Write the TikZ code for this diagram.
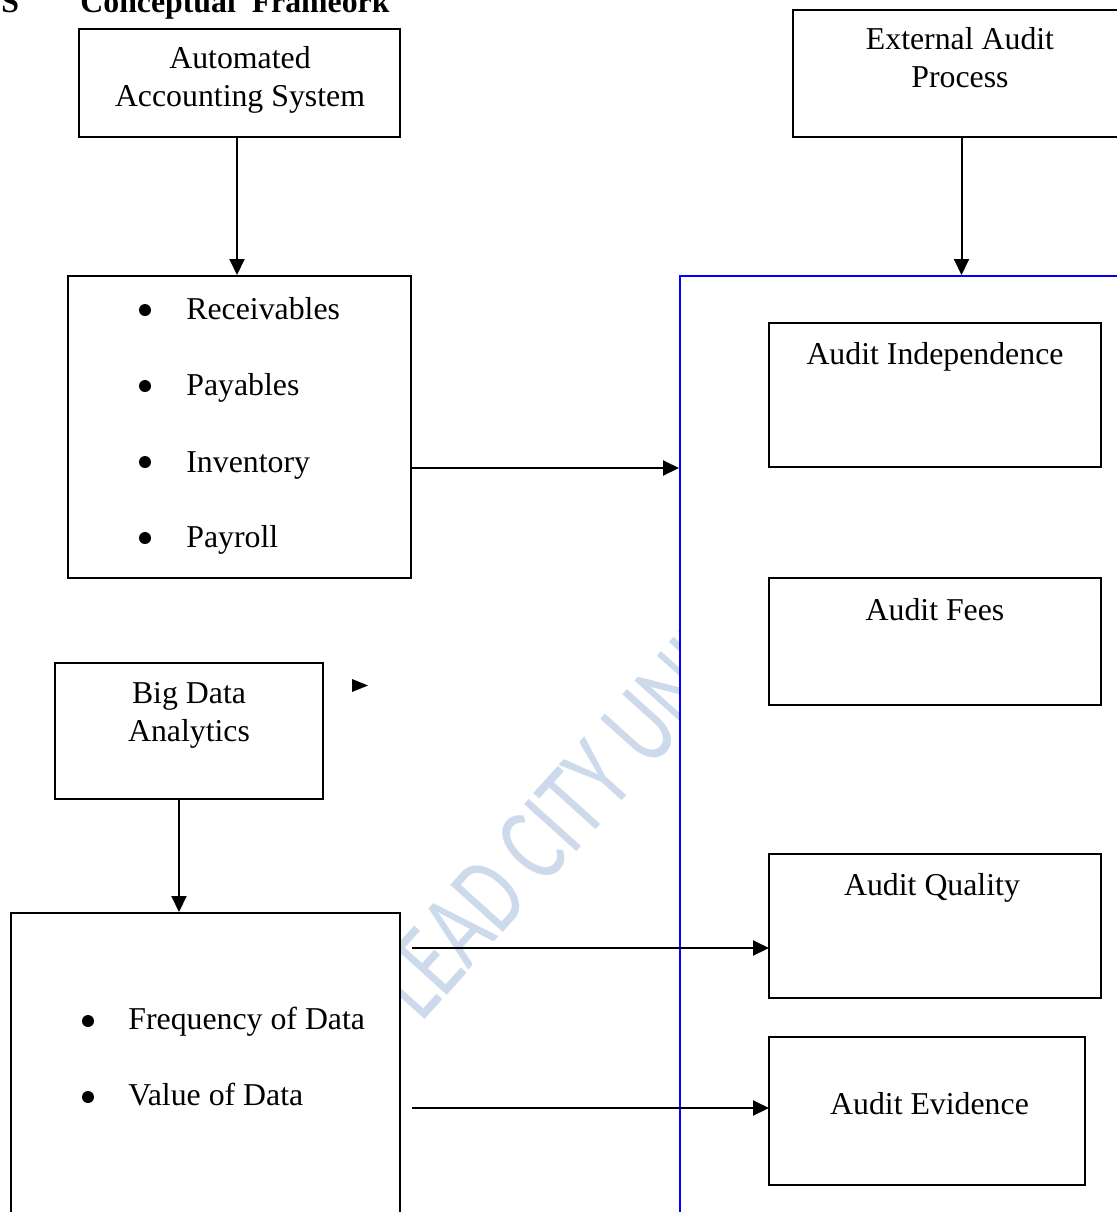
\documentclass[tikz,border=0pt]{standalone}
\usepackage{fontspec}
\setmainfont{Liberation Serif}
\newfontfamily\wmfont{Carlito}
\usetikzlibrary{arrows.meta,fit}
\definecolor{wmblue}{RGB}{204,218,236}
\begin{document}
\begin{tikzpicture}[x=0.5pt,y=-0.5pt,
  box/.style={draw=black,line width=1pt,fill=white,inner sep=0pt,fit={#1}},
  frame/.style={draw=blue,line width=1pt,fill=white,inner sep=0pt,fit={#1}},
  lbl/.style={font=\fontsize{15.9}{19}\selectfont,inner sep=0pt,anchor=base,align=center},
  item/.style={lbl,anchor=base west},
  ttl/.style={font=\fontsize{15.9}{19}\selectfont\bfseries,inner sep=0pt,anchor=base west},
  arr/.style={line width=1pt,-{Triangle[length=8pt,width=7.5pt]}},
  dot/.style={fill=black}]
\useasboundingbox (0,0) rectangle (1116,1212);

% watermark
\node[font=\wmfont\fontsize{55}{55}\selectfont,text=wmblue,inner sep=0pt,
      rotate=48,xscale=0.72,anchor=base west] (wmark) at (421,1024) {LEAD CITY UNIVERSITY};

% heading
\node[ttl] (secno) at (1,12) {S};
\node[ttl] (heading) at (80,12) {Conceptual\ \ Frameork};

% dependent side
\node[frame={(680,276) (1140,1240)}] (frame) {};
\node[box={(793,10) (1130,137)}] (ext) {};
\node[lbl] (ext-t) at (960,87) {External Audit\\Process};
\node[box={(769,323) (1101,467)}] (indep) {};
\node[lbl] (indep-t) at (935,364) {Audit Independence};
\node[box={(769,578) (1101,705)}] (fees) {};
\node[lbl] (fees-t) at (935,620) {Audit Fees};
\node[box={(769,854) (1101,998)}] (qual) {};
\node[lbl] (qual-t) at (932,895) {Audit Quality};
\node[box={(769,1037) (1085,1185)}] (evid) {};
\node[lbl] (evid-t) at (929.5,1114) {Audit Evidence};

% accounting system
\node[box={(79,29) (400,137)}] (aas) {};
\node[lbl] (aas-t) at (240,106) {Automated\\Accounting System};
\node[box={(68,276) (411,578)}] (acc) {};
\fill[dot] (145,310) circle[radius=3pt];
\node[item] (acc-1) at (186,319) {Receivables};
\fill[dot] (145,386) circle[radius=3pt];
\node[item] (acc-2) at (186,395) {Payables};
\fill[dot] (145,462) circle[radius=3pt];
\node[item] (acc-3) at (186,472) {Inventory};
\fill[dot] (145,538) circle[radius=3pt];
\node[item] (acc-4) at (186,547) {Payroll};

% big data
\node[box={(55,663) (323,799)}] (bda) {};
\node[lbl] (bda-t) at (189,741) {Big Data\\Analytics};
\node[box={(11,913) (400,1240)}] (bdl) {};
\fill[dot] (88,1021) circle[radius=3pt];
\node[item] (bdl-1) at (128,1029) {Frequency of Data};
\fill[dot] (88,1097) circle[radius=3pt];
\node[item] (bdl-2) at (128,1105) {Value of Data};

% connectors
\coordinate (qin) at (769,948);
\coordinate (ein) at (769,1108);
\draw[arr] ([xshift=-1.25pt]aas.south) -- ([xshift=-1.25pt]acc.north);
\draw[arr] (ext.south) -- (ext.south |- frame.north);
\draw[arr] (acc.east |- indep.south) -- (frame.west |- indep.south);
\draw[arr] ([xshift=-5pt]bda.south) -- ([xshift=-5pt]bda.south |- bdl.north);
\draw[arr] ([xshift=5.5pt]bdl.east |- qin) -- (qin);
\draw[arr] ([xshift=5.5pt]bdl.east |- ein) -- (ein);

% loose arrowhead
\fill (352,679) -- (368,685.5) -- (352,692) -- cycle;
\end{tikzpicture}
\end{document}
